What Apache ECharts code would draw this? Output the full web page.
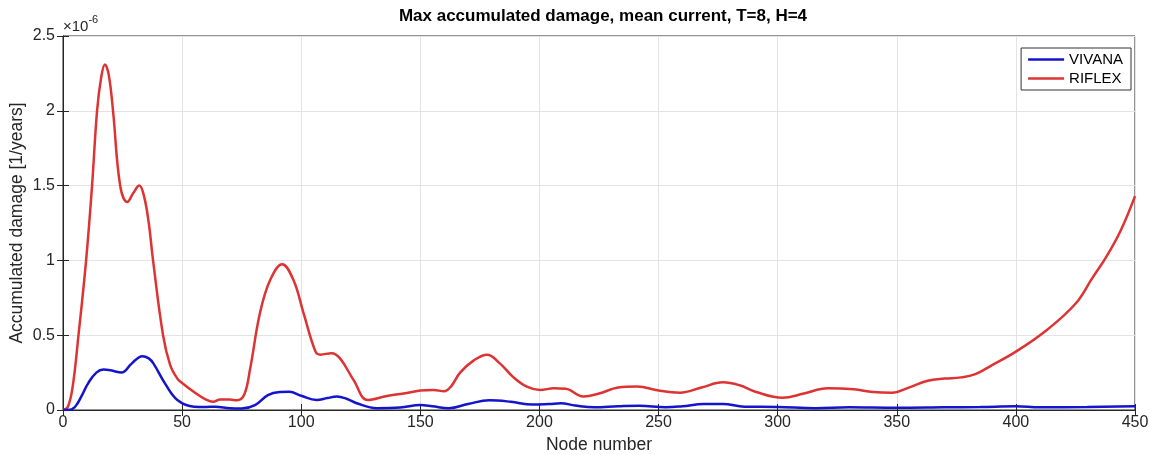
<!DOCTYPE html>
<html>
<head>
<meta charset="utf-8">
<script src="https://cdn.jsdelivr.net/npm/echarts@6/dist/echarts.min.js"></script>
<style>html,body{margin:0;padding:0;background:#fff}#c{width:1150px;height:455px}</style>
</head>
<body>
<div id="c"></div>
<script>
const titleText = 'Max accumulated damage, mean current, T=8, H=4';
const xName = 'Node number';
const yName = 'Accumulated damage [1/years]';
const seriesNames = ['VIVANA', 'RIFLEX'];
const xTicks = [0, 50, 100, 150, 200, 250, 300, 350, 400, 450];
const yTicks = [0, 0.5, 1, 1.5, 2, 2.5];
// values in units of 1e-6
const vivana = [[0,0],[2,0],[5,0.02],[8,0.1],[10.6,0.18],[14,0.25],[17,0.27],[20,0.265],[24.6,0.25],[28.8,0.31],[33.3,0.36],[36,0.345],[38,0.31],[42.8,0.178],[48,0.067],[55,0.022],[60,0.02],[64,0.022],[70,0.012],[75,0.01],[80.6,0.033],[86,0.1],[91,0.12],[95,0.122],[100,0.095],[106.5,0.067],[111,0.08],[115,0.09],[119,0.075],[123.3,0.045],[131.7,0.012],[141.5,0.016],[150,0.033],[155,0.025],[162,0.012],[170,0.04],[179,0.065],[188,0.055],[197,0.036],[204,0.04],[209,0.045],[215,0.03],[223,0.018],[233,0.025],[242,0.029],[253,0.018],[260,0.025],[269,0.04],[277,0.04],[286,0.022],[300,0.02],[316,0.012],[330,0.018],[350,0.015],[370,0.018],[385,0.02],[400,0.025],[410,0.018],[430,0.02],[450,0.025]];
const riflex = [[0,0],[2,0.02],[4,0.15],[6.5,0.5],[9.7,1.0],[12.2,1.5],[14.3,2.0],[16,2.22],[17.6,2.31],[19.2,2.24],[21,2.0],[24,1.5],[27,1.39],[29.5,1.45],[32,1.5],[34,1.43],[36,1.25],[37.8,1.0],[42,0.5],[45,0.3],[48,0.21],[50,0.18],[55,0.12],[60,0.07],[63,0.055],[66,0.07],[70,0.07],[73,0.065],[76,0.1],[78.5,0.27],[82.7,0.65],[87,0.87],[92,0.975],[96.7,0.87],[101,0.646],[106,0.39],[108,0.37],[112.8,0.38],[116.3,0.345],[122,0.2],[128,0.067],[136,0.094],[143,0.11],[150,0.13],[155.5,0.134],[160,0.125],[163,0.16],[166.7,0.25],[172.3,0.33],[178,0.37],[183.5,0.31],[189,0.22],[194.7,0.156],[200.3,0.134],[206,0.145],[211,0.142],[218.5,0.09],[225,0.11],[233,0.15],[241,0.157],[250,0.13],[259,0.116],[268,0.15],[277,0.185],[284,0.165],[291,0.12],[302,0.082],[311,0.11],[321,0.145],[332,0.138],[340,0.12],[348,0.115],[355,0.15],[363,0.196],[370,0.21],[377,0.218],[383,0.24],[390,0.3],[400,0.39],[413,0.535],[425,0.71],[432,0.88],[438,1.025],[444,1.2],[450,1.43]];

const FONT = 'Liberation Sans';
const AX = '#262626';
const BLUE = '#1414cc';
const RED = '#dd3333';
const chart = echarts.init(document.getElementById('c'), null, {renderer: 'canvas'});
const xMin = xTicks[0], xMax = xTicks[xTicks.length - 1], xInt = xTicks[1] - xTicks[0];
const yMin = yTicks[0], yMax = yTicks[yTicks.length - 1], yInt = yTicks[1] - yTicks[0];
const grid = {left: 63, right: 15, top: 36, bottom: 45, show: true, borderColor: AX, borderWidth: 1,
  backgroundColor: '#fff', containLabel: false, outerBoundsMode: 'none'};
const tickCommon = {show: true, inside: true, length: 6, lineStyle: {color: AX, width: 1}};
chart.setOption({
  animation: false,
  title: {text: titleText, left: 598, top: 3, textAlign: 'center',
    textStyle: {fontFamily: FONT, fontSize: 17, fontWeight: 'bold', color: '#000'}},
  grid: grid,
  legend: {
    data: [{name: seriesNames[0], icon: 'rect'}, {name: seriesNames[1], icon: 'rect'}],
    orient: 'vertical', right: 19, top: 48,
    backgroundColor: '#fff', borderColor: '#333', borderWidth: 1, borderRadius: 0,
    padding: [3, 8, 3, 7], itemGap: 2, itemWidth: 36, itemHeight: 2.5,
    textStyle: {fontFamily: FONT, fontSize: 15, color: '#000', lineHeight: 17}
  },
  xAxis: [{
    type: 'value', min: xMin, max: xMax, interval: xInt, position: 'bottom',
    name: xName, nameLocation: 'middle', nameGap: 23,
    nameTextStyle: {fontFamily: FONT, fontSize: 17.5, color: AX},
    axisLine: {show: true, onZero: false, lineStyle: {color: AX}},
    axisTick: tickCommon,
    axisLabel: {fontFamily: FONT, fontSize: 16, color: AX, margin: 5},
    splitLine: {show: true, lineStyle: {color: '#e3e3e3', width: 1}}
  }, {
    type: 'value', min: xMin, max: xMax, interval: xInt, position: 'top',
    axisLine: {show: true, lineStyle: {color: AX}},
    axisTick: tickCommon, axisLabel: {show: false}, splitLine: {show: false}
  }],
  yAxis: [{
    type: 'value', min: yMin, max: yMax, interval: yInt, position: 'left',
    name: yName, nameLocation: 'middle', nameGap: 37, nameMoveOverlap: false,
    nameTextStyle: {fontFamily: FONT, fontSize: 17.5, color: AX},
    axisLine: {show: true, onZero: false, lineStyle: {color: AX}},
    axisTick: tickCommon,
    axisLabel: {fontFamily: FONT, fontSize: 16, color: AX, margin: 8},
    splitLine: {show: true, lineStyle: {color: '#e3e3e3', width: 1}}
  }, {
    type: 'value', min: yMin, max: yMax, interval: yInt, position: 'right',
    axisLine: {show: true, lineStyle: {color: AX}},
    axisTick: tickCommon, axisLabel: {show: false}, splitLine: {show: false}
  }],
  graphic: [{
    type: 'text', left: 63, top: 14,
    style: {
      text: '{a|×10}{b|-6}',
      rich: {
        a: {fontFamily: FONT, fontSize: 15, fill: AX, verticalAlign: 'bottom', lineHeight: 20},
        b: {fontFamily: FONT, fontSize: 11, fill: AX, verticalAlign: 'top', lineHeight: 14, padding: [0, 0, 8, 0]}
      }
    }
  }],
  series: [{
    name: seriesNames[0], type: 'line', data: vivana, smooth: 0.4, symbol: 'none',
    lineStyle: {color: BLUE, width: 2.5}, itemStyle: {color: BLUE}, z: 3
  }, {
    name: seriesNames[1], type: 'line', data: riflex, smooth: 0.4, symbol: 'none',
    lineStyle: {color: RED, width: 2.5}, itemStyle: {color: RED}, z: 2
  }]
});
</script>
</body>
</html>
